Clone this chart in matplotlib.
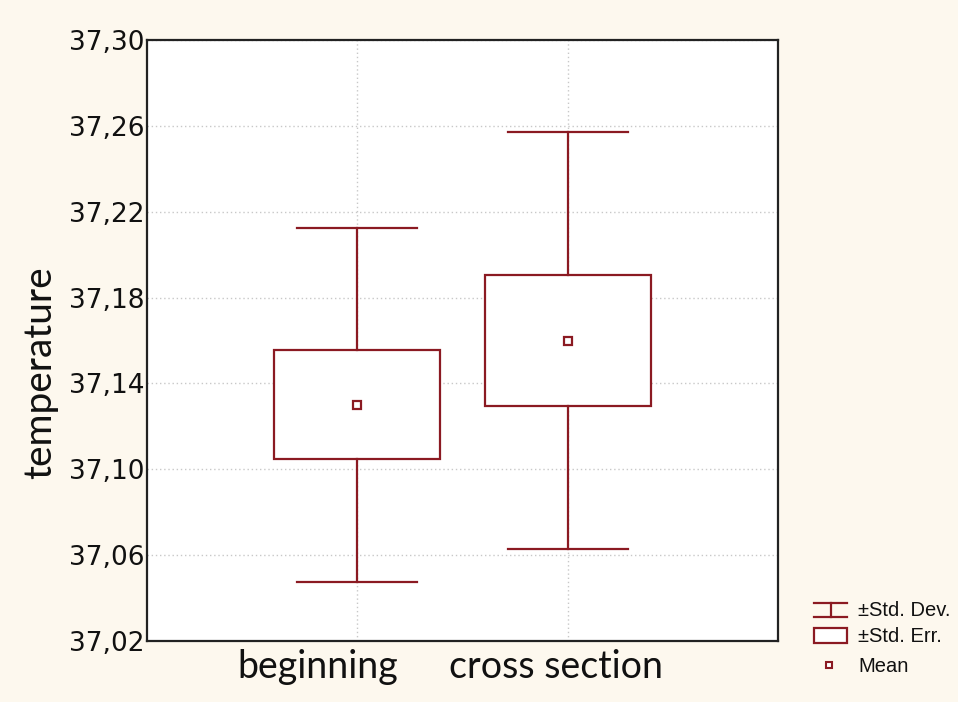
import matplotlib
matplotlib.use("Agg")
import matplotlib.pyplot as plt
from matplotlib.patches import Rectangle
from matplotlib.lines import Line2D
from matplotlib.ticker import FuncFormatter
from matplotlib.transforms import ScaledTranslation

categories = ["beginning", "cross section"]
means = [37.130, 37.160]
std_err = [0.0254, 0.0303]
std_dev = [0.0825, 0.0970]
y_ticks = [37.02, 37.06, 37.10, 37.14, 37.18, 37.22, 37.26, 37.30]

RED = "#8B1A22"
BG = "#FDF8EE"

fig = plt.figure(figsize=(9.58, 7.02), dpi=100, facecolor=BG)
ax = fig.add_axes([0.1534, 0.0869, 0.6587, 0.8561], facecolor="white")

positions = list(range(1, len(categories) + 1))
box_half = 0.395
cap_half = 0.285

for x, m, se, sd in zip(positions, means, std_err, std_dev):
    # whiskers: mean ± SD
    ax.plot([x, x], [m + se, m + sd], color=RED, lw=1.6, zorder=3)
    ax.plot([x, x], [m - sd, m - se], color=RED, lw=1.6, zorder=3)
    ax.plot([x - cap_half, x + cap_half], [m + sd, m + sd], color=RED, lw=1.6, zorder=3)
    ax.plot([x - cap_half, x + cap_half], [m - sd, m - sd], color=RED, lw=1.6, zorder=3)
    # box: mean ± SE
    ax.add_patch(Rectangle((x - box_half, m - se), 2 * box_half, 2 * se,
                           facecolor="white", edgecolor=RED, lw=1.6, zorder=2))
    # mean marker
    ax.plot([x], [m], marker="s", markersize=6, markerfacecolor="white",
            markeredgecolor=RED, markeredgewidth=1.6, zorder=4)

ax.set_xlim(0, len(categories) + 1)
ax.set_ylim(y_ticks[0], y_ticks[-1])
ax.set_yticks(y_ticks)
ax.yaxis.set_major_formatter(FuncFormatter(lambda v, p: f"{v:.2f}".replace(".", ",")))
ax.set_xticks(positions)
ax.set_xticklabels(categories, fontsize=27, family="Lato", color="#111111")
ax.tick_params(axis="y", length=0, pad=2, labelsize=19, labelcolor="#111111")
ax.tick_params(axis="x", length=0, pad=6)

# category labels sit slightly left of their tick positions
label_shift_px = [-40, -12]
for lbl, dx in zip(ax.get_xticklabels(), label_shift_px):
    lbl.set_transform(lbl.get_transform() + ScaledTranslation(dx / 100, 0, fig.dpi_scale_trans))

ax.grid(True, color="#c8c8c8", linestyle=(0, (1, 2)), lw=1.0, zorder=0)
ax.set_axisbelow(True)
for s in ax.spines.values():
    s.set_color("#222222")
    s.set_linewidth(1.6)

W, H = 958.0, 702.0
def fx(px):
    return px / W
def fy(py):
    return 1 - py / H

fig.text(fx(40), fy(373), "temperature", rotation=90, ha="center", va="center",
         fontsize=28, family="Lato", color="#111111")

# legend drawn in figure coordinates
# ±Std. Dev. symbol
fig.add_artist(Line2D([fx(814), fx(847)], [fy(603), fy(603)], color=RED, lw=1.6))
fig.add_artist(Line2D([fx(814), fx(847)], [fy(617), fy(617)], color=RED, lw=1.6))
fig.add_artist(Line2D([fx(830.5), fx(830.5)], [fy(603), fy(617)], color=RED, lw=1.6))
# ±Std. Err. symbol
fig.add_artist(Rectangle((fx(814), fy(643)), fx(847) - fx(814), fy(628) - fy(643),
                         facecolor="white", edgecolor=RED, lw=1.6))
# Mean symbol
fig.add_artist(Line2D([fx(829)], [fy(665)], marker="s", markersize=5,
                      markerfacecolor="white", markeredgecolor=RED, markeredgewidth=1.5))

leg_font = dict(fontsize=14.5, family="Liberation Sans", color="#111111", va="center", ha="left")
fig.text(fx(858), fy(611), "±Std. Dev.", **leg_font)
fig.text(fx(858), fy(637), "±Std. Err.", **leg_font)
fig.text(fx(858), fy(666), "Mean", **leg_font)

fig.savefig("out.png", dpi=100, facecolor=BG)
